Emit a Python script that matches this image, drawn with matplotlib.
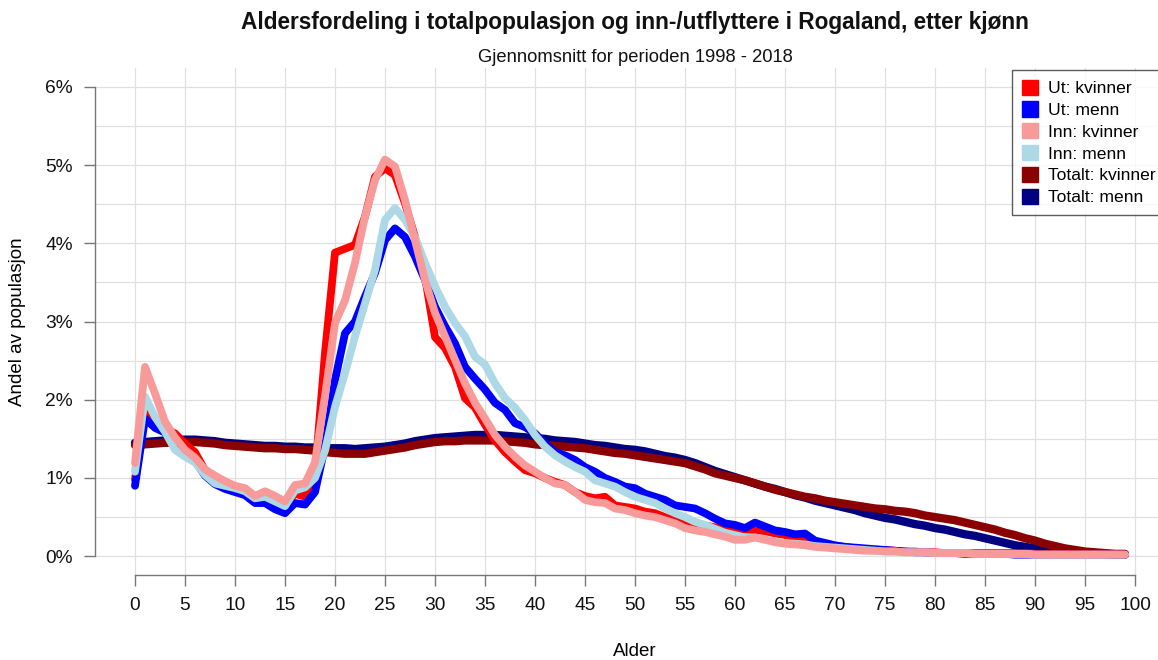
import matplotlib
matplotlib.use("Agg")
import matplotlib.pyplot as plt
from matplotlib.patches import Patch
from matplotlib.ticker import FuncFormatter, MultipleLocator

plt.rcParams['font.family'] = ['Liberation Sans', 'DejaVu Sans']

ages = list(range(0, 100))

tot_kvinner = [1.42, 1.43, 1.44, 1.45, 1.45, 1.46, 1.46, 1.45, 1.44, 1.42,
               1.41, 1.40, 1.39, 1.38, 1.38, 1.37, 1.37, 1.36, 1.35, 1.33,
               1.32, 1.31, 1.31, 1.31, 1.33, 1.35, 1.37, 1.39, 1.42, 1.44,
               1.46, 1.47, 1.47, 1.48, 1.48, 1.48, 1.48, 1.47, 1.46, 1.45,
               1.43, 1.42, 1.41, 1.40, 1.39, 1.38, 1.36, 1.34, 1.32, 1.31,
               1.29, 1.27, 1.25, 1.23, 1.21, 1.19, 1.15, 1.11, 1.06, 1.03,
               1.00, 0.97, 0.93, 0.89, 0.85, 0.82, 0.79, 0.76, 0.74, 0.71,
               0.69, 0.67, 0.65, 0.63, 0.61, 0.60, 0.58, 0.57, 0.55, 0.52,
               0.50, 0.48, 0.46, 0.43, 0.40, 0.37, 0.34, 0.30, 0.27, 0.23,
               0.20, 0.16, 0.13, 0.10, 0.08, 0.06, 0.05, 0.04, 0.03, 0.03]

tot_menn = [1.45, 1.46, 1.47, 1.48, 1.48, 1.49, 1.49, 1.48, 1.47, 1.45,
            1.44, 1.43, 1.42, 1.41, 1.41, 1.40, 1.40, 1.39, 1.39, 1.38,
            1.38, 1.38, 1.37, 1.38, 1.39, 1.40, 1.42, 1.44, 1.47, 1.49,
            1.51, 1.52, 1.53, 1.54, 1.55, 1.55, 1.55, 1.54, 1.53, 1.52,
            1.51, 1.50, 1.48, 1.47, 1.46, 1.44, 1.42, 1.41, 1.39, 1.37,
            1.36, 1.34, 1.31, 1.28, 1.26, 1.23, 1.19, 1.14, 1.09, 1.05,
            1.01, 0.97, 0.93, 0.89, 0.86, 0.82, 0.78, 0.75, 0.71, 0.68,
            0.65, 0.62, 0.59, 0.55, 0.52, 0.49, 0.47, 0.44, 0.41, 0.39,
            0.36, 0.34, 0.31, 0.28, 0.26, 0.23, 0.20, 0.17, 0.14, 0.12,
            0.10, 0.08, 0.06, 0.05, 0.04, 0.04, 0.03, 0.03, 0.02, 0.02]

ut_kvinner = [0.98, 1.87, 1.70, 1.63, 1.57, 1.44, 1.33, 1.10, 1.00, 0.95,
              0.87, 0.83, 0.74, 0.78, 0.72, 0.66, 0.80, 0.76, 1.05, 2.60,
              3.88, 3.93, 3.98, 4.34, 4.85, 4.96, 4.87, 4.51, 4.08, 3.57,
              2.80, 2.66, 2.42, 2.02, 1.90, 1.68, 1.48, 1.33, 1.21, 1.10,
              1.06, 1.00, 0.95, 0.91, 0.82, 0.77, 0.74, 0.76, 0.65, 0.63,
              0.61, 0.57, 0.55, 0.50, 0.46, 0.44, 0.42, 0.39, 0.37, 0.36,
              0.35, 0.34, 0.33, 0.31, 0.29, 0.27, 0.24, 0.21, 0.18, 0.15,
              0.13, 0.12, 0.10, 0.09, 0.08, 0.08, 0.07, 0.06, 0.06, 0.05,
              0.05, 0.04, 0.04, 0.04, 0.04, 0.04, 0.04, 0.04, 0.04, 0.04,
              0.03, 0.03, 0.03, 0.03, 0.03, 0.03, 0.03, 0.03, 0.03, 0.03]

ut_menn = [0.90, 1.76, 1.64, 1.58, 1.42, 1.30, 1.22, 1.03, 0.92, 0.86,
           0.82, 0.78, 0.68, 0.68, 0.60, 0.55, 0.68, 0.66, 0.82, 1.40,
           2.25, 2.85, 3.00, 3.32, 3.62, 4.04, 4.19, 4.08, 3.83, 3.53,
           3.19, 2.94, 2.72, 2.42, 2.27, 2.13, 1.96, 1.87, 1.70, 1.65,
           1.57, 1.44, 1.33, 1.29, 1.23, 1.14, 1.08, 1.00, 0.95, 0.89,
           0.87, 0.80, 0.76, 0.72, 0.65, 0.63, 0.61, 0.55, 0.48, 0.42,
           0.40, 0.36, 0.43, 0.38, 0.33, 0.31, 0.28, 0.29, 0.20, 0.17,
           0.14, 0.12, 0.11, 0.10, 0.09, 0.08, 0.07, 0.06, 0.05, 0.05,
           0.04, 0.04, 0.04, 0.03, 0.03, 0.03, 0.03, 0.03, 0.02, 0.02,
           0.02, 0.02, 0.02, 0.02, 0.02, 0.02, 0.02, 0.02, 0.02, 0.02]

inn_kvinner = [1.19, 2.42, 2.08, 1.72, 1.52, 1.36, 1.26, 1.11, 1.03, 0.96,
               0.90, 0.87, 0.77, 0.83, 0.77, 0.70, 0.91, 0.93, 1.20, 2.05,
               2.98, 3.27, 3.75, 4.34, 4.81, 5.07, 4.98, 4.55, 4.04, 3.53,
               3.11, 2.81, 2.51, 2.21, 1.96, 1.76, 1.55, 1.40, 1.27, 1.16,
               1.08, 1.00, 0.93, 0.91, 0.82, 0.72, 0.69, 0.68, 0.61, 0.59,
               0.55, 0.52, 0.50, 0.46, 0.42, 0.36, 0.33, 0.31, 0.28, 0.25,
               0.21, 0.21, 0.24, 0.21, 0.18, 0.16, 0.15, 0.14, 0.12, 0.11,
               0.10, 0.09, 0.08, 0.07, 0.07, 0.06, 0.06, 0.05, 0.05, 0.05,
               0.04, 0.04, 0.04, 0.04, 0.03, 0.03, 0.03, 0.03, 0.03, 0.03,
               0.02, 0.02, 0.02, 0.02, 0.02, 0.02, 0.02, 0.02, 0.02, 0.02]

inn_menn = [1.08, 2.04, 1.78, 1.59, 1.36, 1.27, 1.20, 1.04, 0.93, 0.90,
            0.87, 0.83, 0.74, 0.76, 0.70, 0.64, 0.84, 0.88, 1.00, 1.35,
            1.91, 2.34, 2.81, 3.23, 3.66, 4.30, 4.45, 4.30, 4.08, 3.75,
            3.45, 3.19, 2.98, 2.81, 2.55, 2.45, 2.21, 2.02, 1.90, 1.74,
            1.55, 1.40, 1.29, 1.21, 1.14, 1.08, 0.97, 0.93, 0.89, 0.82,
            0.76, 0.72, 0.68, 0.61, 0.55, 0.50, 0.44, 0.40, 0.35, 0.30,
            0.27, 0.24, 0.24, 0.22, 0.19, 0.17, 0.16, 0.15, 0.13, 0.12,
            0.11, 0.10, 0.09, 0.08, 0.07, 0.06, 0.06, 0.05, 0.05, 0.05,
            0.04, 0.04, 0.04, 0.04, 0.03, 0.03, 0.03, 0.03, 0.03, 0.03,
            0.02, 0.02, 0.02, 0.02, 0.02, 0.02, 0.02, 0.02, 0.02, 0.02]

labels = ["Ut: kvinner", "Ut: menn", "Inn: kvinner", "Inn: menn",
          "Totalt: kvinner", "Totalt: menn"]
colors = ["#FF0000", "#0000FF", "#F99A9A", "#ADD8E6", "#8B0000", "#000080"]

W, H = 1158, 660
fig = plt.figure(figsize=(W / 100, H / 100), dpi=100)
fig.patch.set_facecolor("white")

# plot region in pixels (R style, extends past right edge)
L, R_, T, B = 95, 1175, 68, 575
ax = fig.add_axes([L / W, 1 - B / H, (R_ - L) / W, (B - T) / H])
ax.set_xlim(-4, 104)
ax.set_ylim(-0.24, 6.24)

ax.xaxis.set_major_locator(MultipleLocator(5))
ax.yaxis.set_major_locator(MultipleLocator(1))
ax.yaxis.set_major_formatter(FuncFormatter(lambda v, p: f"{int(round(v))}%"))

# grid
for gx in range(0, 101, 5):
    ax.axvline(gx, color="#E0E0E0", lw=0.9, zorder=0)
for gy in [i * 0.5 for i in range(0, 13)]:
    ax.axhline(gy, color="#E0E0E0", lw=0.9, zorder=0)

for s in ["top", "right"]:
    ax.spines[s].set_visible(False)
ax.spines["left"].set_bounds(0, 6)
ax.spines["bottom"].set_bounds(0, 100)
for s in ["left", "bottom"]:
    ax.spines[s].set_color("#777777")
    ax.spines[s].set_linewidth(1.0)
ax.tick_params(axis="both", direction="out", length=8, width=1.0,
               color="#777777", labelsize=13.8, labelcolor="#111111", pad=8)

lw = 5.6
kw = dict(solid_capstyle="round", solid_joinstyle="round")
ax.plot(ages, tot_menn, color=colors[5], lw=lw + 0.4, zorder=2, **kw)
ax.plot(ages, tot_kvinner, color=colors[4], lw=lw + 0.4, zorder=2, **kw)
ax.plot(ages, ut_kvinner, color=colors[0], lw=lw, zorder=3, **kw)
ax.plot(ages, ut_menn, color=colors[1], lw=lw, zorder=3, **kw)
ax.plot(ages, inn_menn, color=colors[3], lw=lw, zorder=3, **kw)
ax.plot(ages, inn_kvinner, color=colors[2], lw=lw, zorder=3, **kw)

ax.set_xlabel("Alder", fontsize=13.5, labelpad=0)
ax.xaxis.set_label_coords(0.5, -(652 - B) / (B - T), transform=ax.transAxes)
ax.set_ylabel("Andel av populasjon", fontsize=13.5)
ax.yaxis.set_label_coords(-(L - 18) / (R_ - L), 0.5, transform=ax.transAxes)
ax.xaxis.label.set_va("center")
ax.yaxis.label.set_va("center")

cx = ((L + R_) / 2) / W
fig.text(cx, 1 - 22 / H, "Aldersfordeling i totalpopulasjon og inn-/utflyttere i Rogaland, etter kjønn",
         ha="center", va="center", fontsize=16.3, fontweight="bold", color="#111111")
fig.text(cx, 1 - 58 / H, "Gjennomsnitt for perioden 1998 - 2018",
         ha="center", va="center", fontsize=13.2, color="#111111")

handles = [Patch(facecolor=c, edgecolor=c) for c in colors]
leg = fig.legend(handles, labels, loc="upper left",
                 bbox_to_anchor=(1012 / W, 1 - 70 / H), bbox_transform=fig.transFigure,
                 fontsize=12.6, frameon=True, fancybox=False, borderaxespad=0,
                 handlelength=0.95, handleheight=0.95, handletextpad=0.55,
                 labelspacing=0.3, borderpad=0.55)
leg.get_frame().set_edgecolor("#333333")
leg.get_frame().set_linewidth(1.0)

fig.savefig("out.png", dpi=100, facecolor="white")
